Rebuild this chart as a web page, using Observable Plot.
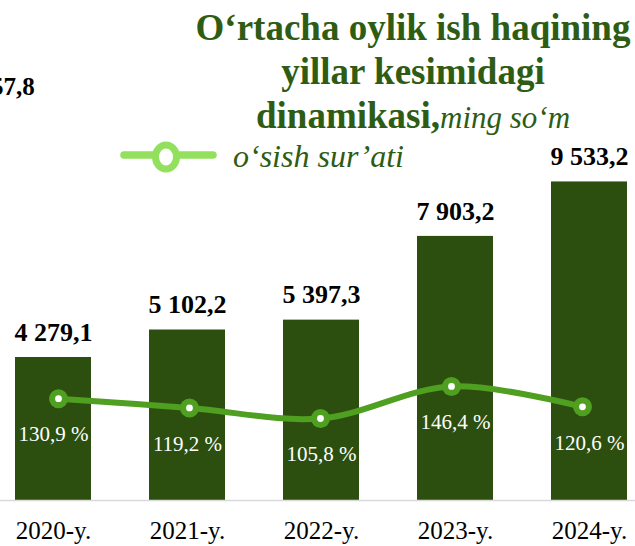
<!DOCTYPE html>
<html><head><meta charset="utf-8">
<script src="https://cdn.jsdelivr.net/npm/d3@7"></script>
<script src="https://cdn.jsdelivr.net/npm/@observablehq/plot@0.6"></script>
<style>
body{margin:0;background:#fff;}
#wrap{position:relative;width:635px;height:546px;overflow:hidden;font-family:"Liberation Serif","Times New Roman",serif;}
#wrap > svg{position:absolute;left:0;top:0;background:transparent;}
#title{position:absolute;left:113px;width:600px;top:6px;text-align:center;color:#2e5c13;font-weight:bold;font-size:37px;line-height:44px;white-space:nowrap;}
#title .unit{font-weight:normal;font-style:italic;font-size:31px;}
#legend{position:absolute;left:116px;top:136px;width:320px;height:40px;white-space:nowrap;}
#legend svg{position:absolute;left:0;top:0;}
#legend span{position:absolute;left:117px;top:2px;font-style:italic;font-size:32px;color:#2e5c13;line-height:36px;}
#cut{position:absolute;left:-9px;top:72px;font-weight:bold;font-size:25px;line-height:30px;color:#000;white-space:nowrap;}
</style></head><body><div id="wrap">
<div id="cut">57,8</div>
<div id="title">O‘rtacha oylik ish haqining<br>yillar kesimidagi<br>dinamikasi,<span class="unit">ming so‘m</span></div>
<div id="legend"><svg width="110" height="40"><line x1="8" y1="19" x2="97" y2="19" stroke="#92e05e" stroke-width="7.5" stroke-linecap="round"/><ellipse cx="50" cy="21" rx="10.5" ry="12" fill="#fff" stroke="#92e05e" stroke-width="7"/></svg><span>o‘sish sur’ati</span></div>
</div>
<script>
const years = ["2020-y.", "2021-y.", "2022-y.", "2023-y.", "2024-y."];
const wages = [4279.1, 5102.2, 5397.3, 7903.2, 9533.2];
const wageLabels = ["4 279,1", "5 102,2", "5 397,3", "7 903,2", "9 533,2"];
const growth = [130.9, 119.2, 105.8, 146.4, 120.6];
const growthLabels = ["130,9 %", "119,2 %", "105,8 %", "146,4 %", "120,6 %"];

const barData = years.map((y, i) => ({year: y, value: wages[i], label: wageLabels[i]}));
const lineData = years.map((y, i) => ({year: y, value: growth[i], label: growthLabels[i]}));

const font = "'Liberation Serif', 'Times New Roman', serif";
const wrap = document.getElementById("wrap");

const bars = Plot.plot({
  width: 635, height: 546,
  marginLeft: 0, marginRight: 0, marginTop: 0, marginBottom: 46,
  style: {fontFamily: font, background: "transparent"},
  x: {type: "band", domain: years, range: [-45, 688], padding: 0.43, label: null, axis: null},
  y: {domain: [0, 12000], range: [500, 99], axis: null},
  marks: [
    Plot.barY(barData, {x: "year", y: "value", fill: "#2c4f10"}),
    Plot.ruleY([0], {stroke: "#d9d9d9", strokeWidth: 1.5}),
    Plot.text(barData, {x: "year", y: "value", text: "label", dy: -25, fontSize: 26, fontWeight: "bold", fill: "#000", fontFamily: font}),
    Plot.axisX({tickSize: 0, tickPadding: 21, fontSize: 25, fill: "#000", label: null, fontFamily: font})
  ]
});
wrap.insertBefore(bars, wrap.firstChild);

const line = Plot.plot({
  width: 635, height: 546,
  margin: 0,
  style: {fontFamily: font, background: "transparent"},
  x: {type: "point", domain: years, range: [58, 582], padding: 0, axis: null},
  y: {domain: [100, 150], range: [422.6, 383.1], axis: null},
  marks: [
    Plot.line(lineData, {x: "year", y: "value", stroke: "#4f9f20", strokeWidth: 6, curve: "catmull-rom"}),
    Plot.dot(lineData, {x: "year", y: "value", r: 9.5, fill: "#4f9f20", stroke: "none"}),
    Plot.dot(lineData, {x: "year", y: "value", r: 3.4, fill: "#fff", stroke: "none"})
  ]
});
wrap.appendChild(line);

const labels = Plot.plot({
  width: 635, height: 546,
  margin: 0,
  style: {fontFamily: font, background: "transparent"},
  x: {type: "band", domain: years, range: [-45, 688], padding: 0.43, axis: null},
  y: {domain: [100, 150], range: [422.6, 383.1], axis: null},
  marks: [
    Plot.text(lineData, {x: "year", y: "value", text: "label", dy: 36, fontSize: 21, fill: "#fff", fontFamily: font})
  ]
});
wrap.appendChild(labels);
</script>
</body></html>
